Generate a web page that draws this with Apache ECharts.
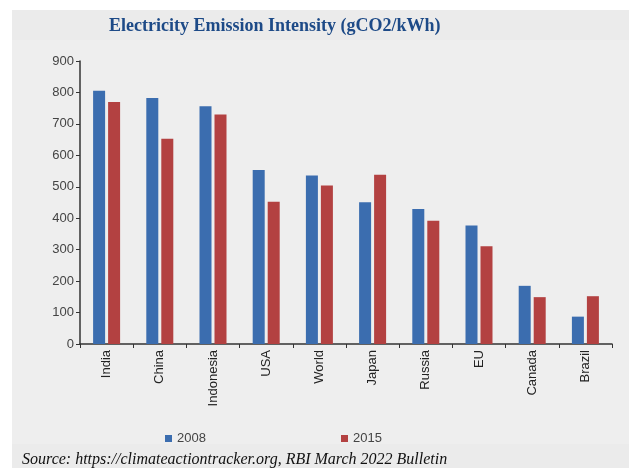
<!DOCTYPE html>
<html><head><meta charset="utf-8">
<script src="https://cdn.jsdelivr.net/npm/echarts@6/dist/echarts.min.js"></script>
<style>html,body{margin:0;padding:0;background:#fff}#c{width:629px;height:470px}</style>
</head><body><div id="c"></div>
<script>
const categories = ['India','China','Indonesia','USA','World','Japan','Russia','EU','Canada','Brazil'];
const values2008 = [805, 782, 756, 553, 536, 451, 429, 377, 185, 87];
const values2015 = [770, 653, 730, 452, 504, 538, 392, 311, 149, 152];
const yTicks = [0,100,200,300,400,500,600,700,800,900];

const sans = '"Liberation Sans", Arial, sans-serif';
const chart = echarts.init(document.getElementById('c'));
chart.setOption({
  animation: false,
  backgroundColor: '#ffffff',
  graphic: [
    {type:'rect', shape:{x:12,y:10,width:617,height:458}, style:{fill:'#ebebeb'}, z:-10},
    {type:'rect', shape:{x:12,y:40,width:617,height:404}, style:{fill:'#eeeeee'}, z:-9},
    {type:'text', left:22, top:452, style:{text:'Source: https://climateactiontracker.org, RBI March 2022 Bulletin', font:'italic 16px "Liberation Serif", serif', fill:'#111'}}
  ],
  title: {
    text: 'Electricity Emission Intensity (gCO2/kWh)',
    left: 104, top: 12,
    textStyle: {fontFamily:'"Liberation Serif", serif', fontWeight:'bold', fontSize:18, color:'#1d4a87'}
  },
  legend: [
    {data:['2008'], left:160, top:427, itemWidth:7, itemHeight:7, itemGap:3, icon:'rect',
     textStyle:{fontSize:13, color:'#444', fontFamily:sans}},
    {data:['2015'], left:336, top:427, itemWidth:7, itemHeight:7, itemGap:3, icon:'rect',
     textStyle:{fontSize:13, color:'#444', fontFamily:sans}}
  ],
  grid: {left:80, right:17, top:61, bottom:126},
  xAxis: {
    type:'category', data:categories,
    axisLine:{lineStyle:{color:'#333', width:1.5}},
    axisTick:{show:true, length:4, lineStyle:{color:'#333'}},
    axisLabel:{rotate:90, color:'#222', fontSize:13, margin:6, fontFamily:sans}
  },
  yAxis: {
    type:'value', min:0, max:900, interval:100,
    axisLine:{show:true, lineStyle:{color:'#333', width:1.5}},
    axisTick:{show:true, length:4, lineStyle:{color:'#333'}},
    splitLine:{show:false},
    axisLabel:{color:'#444', fontSize:13, margin:6, fontFamily:sans,
      formatter: v => yTicks.includes(v) ? String(v) : ''}
  },
  series: [
    {name:'2008', type:'bar', data:values2008, barWidth:12, barGap:'25%', itemStyle:{color:'#3b6daf'}},
    {name:'2015', type:'bar', data:values2015, barWidth:12, itemStyle:{color:'#b34141'}}
  ]
});
</script></body></html>
